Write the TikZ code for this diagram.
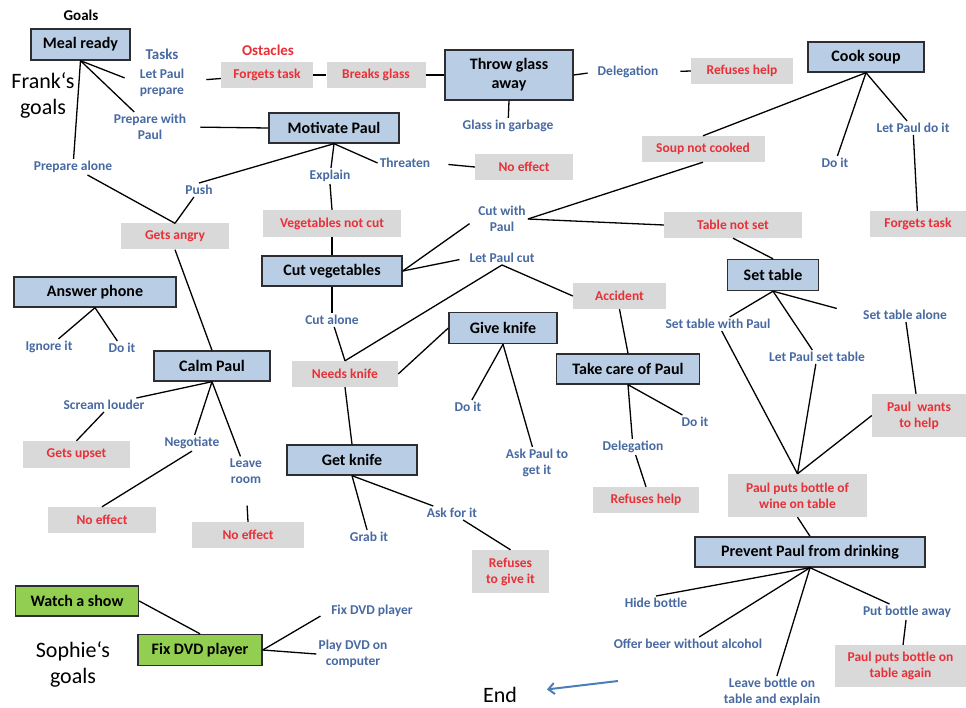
\documentclass[tikz,border=0pt]{standalone}
\usepackage{fontspec}
\setmainfont{Carlito}
\usetikzlibrary{arrows.meta}
\definecolor{bxblue}{RGB}{185,205,229}
\definecolor{bxedge}{RGB}{45,45,50}
\definecolor{bxgreen}{RGB}{146,206,80}
\definecolor{bxgray}{RGB}{217,217,217}
\definecolor{txred}{RGB}{232,48,56}
\definecolor{txblue}{RGB}{72,106,162}
\definecolor{arrblue}{RGB}{74,126,187}
\tikzset{
  sz/.style n args={2}{minimum width=#1pt, minimum height=#2pt},
  goal/.style={draw=bxedge, line width=1.4pt, fill=bxblue, text=black, font=\fontsize{16}{19}\selectfont\bfseries, align=center, inner sep=0pt},
  sgoal/.style={goal, fill=bxgreen},
  obst/.style={fill=bxgray, text=txred, font=\fontsize{13.5}{16}\selectfont\bfseries, align=center, inner sep=0pt},
  task/.style={text=txblue, font=\fontsize{13.5}{16}\selectfont\bfseries, align=center, inner sep=2pt},
  head/.style={font=\fontsize{15}{18}\selectfont\bfseries, inner sep=1pt},
  big/.style={font=\fontsize{22}{26}\selectfont, align=center, inner sep=0pt},
  link/.style={line width=1.3pt, black},
}
\begin{document}
\begin{tikzpicture}[x=1pt, y=-1pt]
\useasboundingbox[fill=white] (0,0) rectangle (966,708);

% ---- headings / big texts
\node[head] (goalshdr) at (81,15) {Goals};
\node[head, text=txred] (ostacles) at (268,50) {Ostacles};
\node[head, text=txblue] (tasks) at (162,54) {Tasks};
\node[big] (frank) at (43,95) {Frank‘s\\goals};
\node[big] (sophie) at (73,664) {Sophie‘s\\goals};
\node[big] (endtxt) at (500,695) {End};

% ---- goal boxes
\node[goal, sz={99}{31}] (meal) at (80.5,44.5) {Meal ready};
\node[goal, sz={130}{30}] (motiv) at (334,128) {Motivate Paul};
\node[goal, sz={128}{50}] (throw) at (509,75) {Throw glass\\away};
\node[goal, sz={116}{30}] (cook) at (866,57) {Cook soup};
\node[goal, sz={140}{30}] (cutveg) at (332,271) {Cut vegetables};
\node[goal, sz={162}{30}] (answer) at (95,292) {Answer phone};
\node[goal, sz={116}{30}] (calm) at (212,366) {Calm Paul};
\node[goal, sz={108}{31}] (give) at (503,328) {Give knife};
\node[goal, sz={143}{30}] (care) at (628,369) {Take care of Paul};
\node[goal, sz={130}{30}] (get) at (352,460) {Get knife};
\node[goal, sz={91}{31}] (settable) at (773,275) {Set table};
\node[goal, sz={230}{30}] (prevent) at (810,552) {Prevent Paul from drinking};
\node[sgoal, sz={123}{30}] (watch) at (77,601) {Watch a show};
\node[sgoal, sz={124}{31}] (fix) at (200,650) {Fix DVD player};

% ---- obstacles
\node[obst, sz={92}{26}] (forg1) at (267,75) {Forgets task};
\node[obst, sz={99}{26}] (breaks) at (376,75) {Breaks glass};
\node[obst, sz={102}{26}] (ref1) at (742,71) {Refuses help};
\node[obst, sz={123}{26}] (soupnot) at (703,149) {Soup not cooked};
\node[obst, sz={98}{26}] (noeff1) at (524,167) {No effect};
\node[obst, sz={138}{27}] (vnc) at (332,223.5) {Vegetables not cut};
\node[obst, sz={108}{26}] (angry) at (175,236.5) {Gets angry};
\node[obst, sz={138}{26}] (tablenot) at (733,225) {Table not set};
\node[obst, sz={96}{26}] (forg2) at (918,224) {Forgets task};
\node[obst, sz={93}{26}] (accident) at (619.5,296) {Accident};
\node[obst, sz={106}{26}] (needs) at (345,374) {Needs knife};
\node[obst, sz={107}{27}] (upset) at (76.5,454.5) {Gets upset};
\node[obst, sz={108}{26}] (noeff2) at (102,520) {No effect};
\node[obst, sz={112}{26}] (noeff3) at (248,535) {No effect};
\node[obst, sz={106}{26}] (ref2) at (646,500) {Refuses help};
\node[obst, sz={94}{43}] (pwants) at (919,415.5) {Paul\ \ wants\\to help};
\node[obst, sz={139}{43}] (ppb) at (797.5,495.5) {Paul puts bottle of\\wine on table};
\node[obst, sz={77}{43}] (refgive) at (510.5,571.5) {Refuses\\to give it};
\node[obst, sz={131}{42}] (ppbagain) at (900.5,666) {Paul puts bottle on\\table again};

% ---- tasks
\node[task] (lpp) at (162,83) {Let Paul\\prepare};
\node[task] (pwp) at (150,127) {Prepare with\\Paul};
\node[task] (palone) at (73,167) {Prepare alone};
\node[task] (push) at (199,190) {Push};
\node[task] (explain) at (330,176) {Explain};
\node[task] (threaten) at (405,163) {Threaten};
\node[task] (glass) at (508,126) {Glass in garbage};
\node[task] (deleg1) at (628,72) {Delegation};
\node[task] (lpdi) at (913,128) {Let Paul do it};
\node[task] (doit1) at (835,163) {Do it};
\node[task] (cutwith) at (502,219) {Cut with\\Paul};
\node[task] (lpc) at (502,258) {Let Paul cut};
\node[task] (cutalone) at (332,320) {Cut alone};
\node[task] (ignore) at (49,347) {Ignore it};
\node[task] (doit2) at (122,348) {Do it};
\node[task] (scream) at (104,405) {Scream louder};
\node[task] (negot) at (192,443) {Negotiate};
\node[task] (leave) at (246,471) {Leave\\room};
\node[task] (doit3) at (468,407) {Do it};
\node[task] (askpaul) at (537,463) {Ask Paul to\\get it};
\node[task] (deleg2) at (633,447) {Delegation};
\node[task] (doit4) at (695,422) {Do it};
\node[task] (grab) at (369,537) {Grab it};
\node[task] (askfor) at (452,513) {Ask for it};
\node[task] (stwp) at (718,324) {Set table with Paul};
\node[task] (lpst) at (817,357) {Let Paul set table};
\node[task] (stalone) at (905,315) {Set table alone};
\node[task] (hide) at (656,603) {Hide bottle};
\node[task] (offer) at (688,644) {Offer beer without alcohol};
\node[task] (leavebt) at (772,692) {Leave bottle on\\table and explain};
\node[task] (putaway) at (907,612) {Put bottle away};
\node[task] (fixlbl) at (372,611) {Fix DVD player};
\node[task] (playdvd) at (353,654) {Play DVD on\\computer};

\coordinate (arrtail) at (618,681);

% ---- connectors
\draw[link, shorten >=14pt] (meal.south) -- (lpp.west);
\draw[link] (meal.south) -- (pwp);
\draw[link] (meal.south) -- (palone);
\draw[link, shorten <=20pt] (lpp) -- (forg1);
\draw[link, shorten <=12pt] (pwp.east) -- (motiv.west);
\draw[link] (palone) -- (angry.north);
\draw[link] (push) -- (angry.north);
\draw[link] (push.north) -- (motiv.south);
\draw[link] (motiv.south) -- (explain);
\draw[link] (motiv.south) -- (threaten.west);
\draw[link, shorten <=16pt] (threaten.east) -- (noeff1.west);
\draw[link] (explain.south) -- (vnc.north);
\draw[link] (vnc.south) -- (cutveg.north);
\draw[link, shorten >=8pt] (cutveg.east) -- (cutwith.west);
\draw[link, shorten >=8pt] (cutveg.east) -- (lpc.west);
\draw[link] (cutwith.east) -- (soupnot.south);
\draw[link] (cutwith.east) -- (tablenot.west);
\draw[link] (soupnot.north) -- (cook.south);
\draw[link] (cook.south) -- (doit1);
\draw[link] (cook.south) -- (lpdi);
\draw[link] (lpdi) -- (forg2);
\draw[link] (tablenot.south) -- (settable.north);
\draw[link] (forg1) -- (breaks);
\draw[link] (breaks) -- (throw);
\draw[link, shorten >=8pt] (throw.east) -- (deleg1.west);
\draw[link, shorten <=20pt] (deleg1.east) -- (ref1.west);
\draw[link] (throw.south) -- (glass);
\draw[link] (lpc.south) -- (accident.west);
\draw[link] (lpc.south) -- (needs.north);
\draw[link] (cutveg.south) -- (cutalone);
\draw[link] (cutalone) -- (needs.north);
\draw[link] (needs.east) -- (give.west);
\draw[link] (needs.south) -- (get.north);
\draw[link] (give.south) -- (doit3);
\draw[link] (give.south) -- (askpaul);
\draw[link] (accident.south) -- (care.north);
\draw[link] (care.south) -- (doit4);
\draw[link] (care.south) -- (deleg2);
\draw[link] (deleg2) -- (ref2.north);
\draw[link] (get.south) -- (grab);
\draw[link] (get.south) -- (askfor);
\draw[link] (askfor) -- (refgive.north);
\draw[link] (angry.south) -- (calm.north);
\draw[link] (answer.south) -- (ignore);
\draw[link] (answer.south) -- (doit2);
\draw[link] (calm.south) -- (scream);
\draw[link] (calm.south) -- (negot);
\draw[link] (calm.south) -- (leave);
\draw[link] (scream.south) -- (upset.north);
\draw[link] (negot.south) -- (noeff2.north);
\draw[link, shorten <=20pt] (leave.south) -- (noeff3.north);
\draw[link] (settable.south) -- (stwp);
\draw[link] (settable.south) -- (lpst);
\draw[link, shorten >=25pt] (settable.south) -- (stalone.west);
\draw[link] (stwp) -- (ppb.north);
\draw[link] (lpst) -- (ppb.north);
\draw[link] (pwants.west) -- (ppb.north);
\draw[link] (stalone) -- (pwants);
\draw[link] (ppb.south) -- (prevent.north);
\draw[link] (prevent.south) -- (hide.north);
\draw[link] (prevent.south) -- (offer);
\draw[link] (prevent.south) -- (leavebt);
\draw[link] (prevent.south) -- (putaway);
\draw[link] (putaway) -- (ppbagain);
\draw[link] (watch.east) -- (fix.north);
\draw[link, shorten >=10pt] (fix.east) -- (fixlbl.west);
\draw[link] (fix.east) -- (playdvd.west);
\draw[arrblue, line width=2pt, -{Straight Barb[length=6pt,width=11pt]}, shorten >=30pt] (arrtail) -- (endtxt);
\end{tikzpicture}
\end{document}
